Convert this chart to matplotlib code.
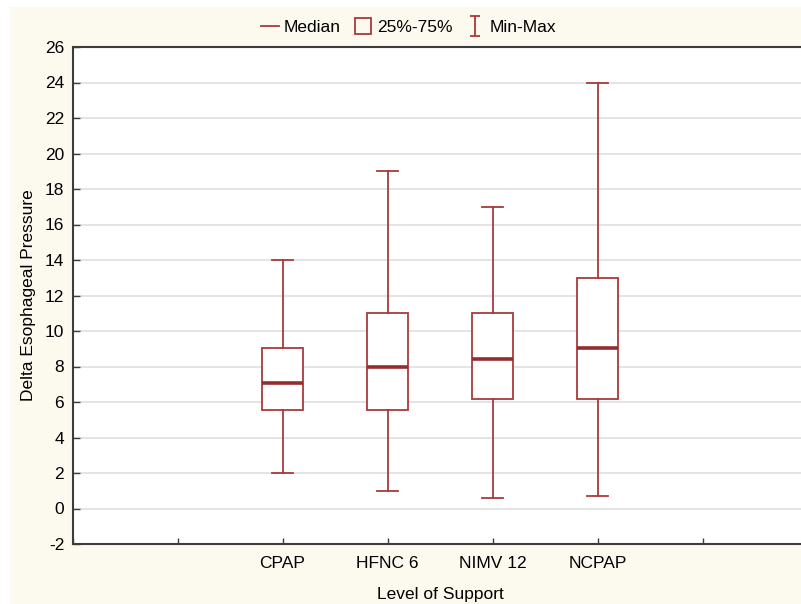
import matplotlib
matplotlib.use("Agg")
import matplotlib.pyplot as plt
from matplotlib.lines import Line2D
from matplotlib.path import Path
from matplotlib.patches import Rectangle

plt.rcParams['font.family'] = ['Liberation Sans', 'DejaVu Sans']
plt.rcParams['font.size'] = 12.5
plt.rcParams['axes.unicode_minus'] = False

# values
groups = ['CPAP', 'HFNC 6', 'NIMV 12', 'NCPAP']
mins = [2.0, 1.0, 0.6, 0.7]
q1s = [5.55, 5.55, 6.15, 6.15]
medians = [7.05, 7.95, 8.45, 9.05]
q3s = [9.05, 11.0, 11.0, 13.0]
maxs = [14.0, 19.0, 17.0, 24.0]

red = '#a83a3c'
dark_red = '#952c2e'
beige = '#fcf9ee'

fig = plt.figure(figsize=(8.01, 6.04), dpi=100, facecolor='white')
fig.patches.append(Rectangle((10 / 801, 0), 1, 1 - 7 / 604, transform=fig.transFigure,
                             facecolor=beige, edgecolor='none', zorder=-10))

# axes extends past the right edge of the picture, as in the reference
ax = fig.add_axes([72.5 / 801, 60 / 604, 735 / 801, 497 / 604])
ax.set_facecolor('white')

stats = []
for name, lo, a, m, b, hi in zip(groups, mins, q1s, medians, q3s, maxs):
    stats.append(dict(label=name, whislo=lo, q1=a, med=m, q3=b, whishi=hi, fliers=[]))

ax.bxp(stats, positions=[2, 3, 4, 5], widths=0.387, showfliers=False,
       patch_artist=True,
       boxprops=dict(facecolor='white', edgecolor=red, linewidth=1.3),
       medianprops=dict(color=dark_red, linewidth=2.6),
       whiskerprops=dict(color=red, linewidth=1.3),
       capprops=dict(color=red, linewidth=1.3),
       capwidths=0.196, zorder=3)

ax.set_xlim(0, 7)
ax.set_ylim(-2, 26)
ax.set_yticks(range(-2, 27, 2))
ax.set_xticks(range(0, 8))
ax.set_xticklabels(['', ''] + groups + ['', ''])
ax.yaxis.grid(True, color='#e2e2e2', linewidth=1.3, zorder=0)
ax.set_axisbelow(True)

for s in ax.spines.values():
    s.set_color('#3c3c3c')
    s.set_linewidth(1.5)

ax.tick_params(axis='y', direction='in', length=5, width=1, color='#3c3c3c', pad=6, right=False)
ax.tick_params(axis='x', direction='in', length=4, width=1, color='#3c3c3c', pad=9)

ax.set_xlabel('Level of Support', labelpad=11)
ax.set_ylabel('Delta Esophageal Pressure', labelpad=6)

# legend
ibeam = Path([(-0.5, -1), (0.5, -1), (0, -1), (0, 1), (-0.5, 1), (0.5, 1)],
             [Path.MOVETO, Path.LINETO, Path.MOVETO, Path.LINETO, Path.MOVETO, Path.LINETO])
handles = [
    Line2D([], [], color=red, linewidth=1.3),
    Line2D([], [], color=red, marker='s', markersize=11, markerfacecolor='none',
           markeredgewidth=1.3, linestyle='none'),
    Line2D([], [], color=red, marker=ibeam, markersize=15, markeredgewidth=1.3,
           linestyle='none'),
]
fig.legend(handles, ['Median', '25%-75%', 'Min-Max'], loc='center',
           bbox_to_anchor=(0.51, 1 - 27 / 604), ncol=3, frameon=False,
           handlelength=1.0, handletextpad=0.3, columnspacing=0.8, fontsize=12.5)

fig.savefig('out.png', dpi=100, facecolor=fig.get_facecolor())
